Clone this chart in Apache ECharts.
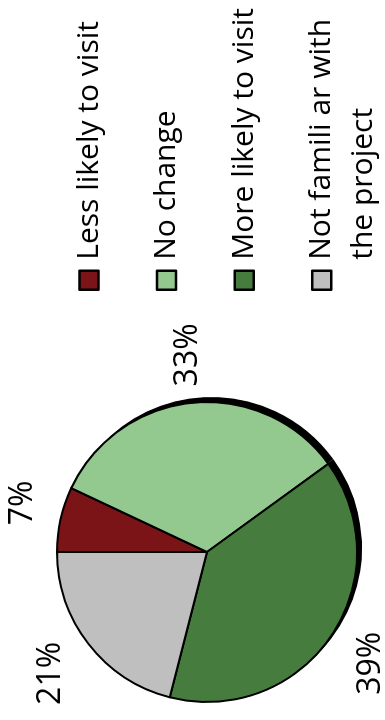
<!DOCTYPE html>
<html>
<head>
<meta charset="utf-8">
<script src="https://cdn.jsdelivr.net/npm/echarts@6/dist/echarts.min.js"></script>
<style>
  html, body { margin: 0; padding: 0; background: #fff; overflow: hidden; }
  body { width: 385px; height: 720px; position: relative; }
  /* chart is laid out landscape, then turned a quarter turn counter-clockwise */
  #chart {
    position: absolute; left: 0; top: 0;
    width: 720px; height: 385px;
    transform-origin: 0 0;
    transform: translate(0, 720px) rotate(-90deg);
  }
</style>
</head>
<body>
<div id="chart"></div>
<script>
// Survey answers (percent of respondents)
const categories = [
  'Less likely to visit',
  'No change',
  'More likely to visit',
  'Not famili ar with\nthe project'
];
const shares = [7, 33, 39, 21];
const colors = ['#7b1416', '#93c98e', '#467d3e', '#bfbfbf'];

const FONT = 'Open Sans';
const center = [168, 207];
const R = 150;

const pieData = categories.map((name, i) => ({ name, value: shares[i], itemStyle: { color: colors[i] } }));
const ringData = categories.map((name, i) => ({ name, value: shares[i] }));

const chart = echarts.init(document.getElementById('chart'), null, { renderer: 'canvas' });

const legendText = {
  fontFamily: FONT, fontSize: 30, color: '#000', lineHeight: 42, padding: [0, 0, 0, 6]
};
const legendBase = {
  orient: 'vertical', left: 429, padding: 0,
  itemWidth: 19, itemHeight: 19, icon: 'rect',
  itemStyle: { borderColor: '#000', borderWidth: 2.5 },
  textStyle: legendText,
  selectedMode: false
};

chart.setOption({
  animation: false,
  legend: [
    Object.assign({}, legendBase, {
      top: 68, itemGap: 35.6,
      data: categories.slice(0, 3)
    }),
    Object.assign({}, legendBase, {
      // leading blank line keeps the first text line level with the swatch
      top: 258.8,
      formatter: name => '\n' + name,
      data: categories.slice(3)
    })
  ],
  series: [
    {
      type: 'pie', z: 2, center: center, radius: R, startAngle: 90, clockwise: true,
      silent: true,
      itemStyle: { borderColor: '#000', borderWidth: 2 },
      label: { show: false }, labelLine: { show: false },
      data: pieData
    },
    {
      // black offset disc behind the pie
      type: 'pie', z: 1, center: [center[0] + 4.5, center[1] + 4.5], radius: R + 0.5,
      startAngle: 90, silent: true,
      itemStyle: { color: '#000', borderWidth: 0 },
      label: { show: false }, labelLine: { show: false },
      data: ringData
    },
    {
      // invisible ring that carries the percentage labels around the pie
      type: 'pie', z: 3, center: center, radius: [186, 204], startAngle: 90,
      silent: true,
      itemStyle: { color: 'rgba(0,0,0,0)', borderWidth: 0 },
      label: {
        show: true, position: 'inside', formatter: '{c}%',
        fontFamily: FONT, fontSize: 32, color: '#000'
      },
      labelLine: { show: false },
      labelLayout: p => (p.dataIndex === 0 ? { dx: 6, dy: 9 } : {}),
      data: ringData
    }
  ]
});
</script>
</body>
</html>
